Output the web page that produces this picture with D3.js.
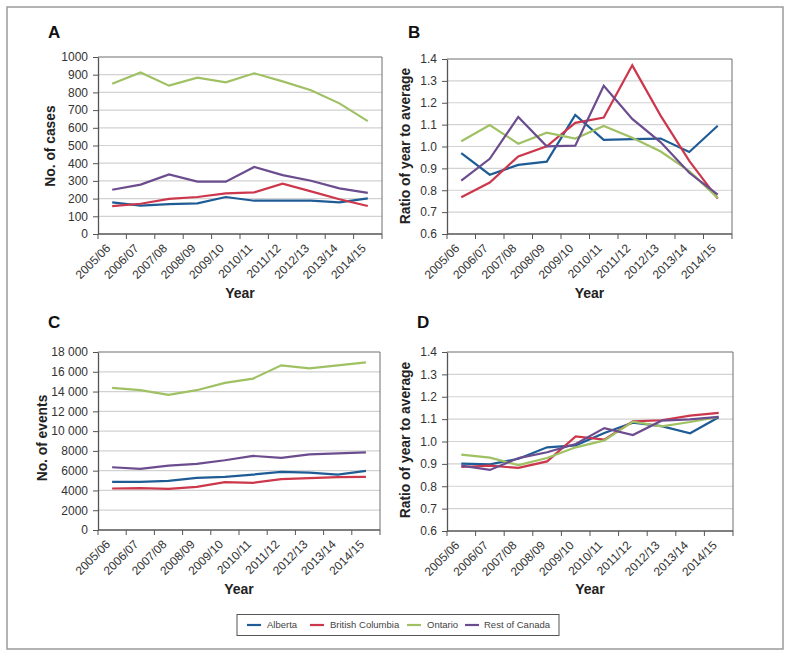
<!DOCTYPE html>
<html><head><meta charset="utf-8">
<script src="https://cdn.jsdelivr.net/npm/d3@7"></script>
<style>
body{margin:0;background:#fff;}
svg{display:block;font-family:"Liberation Sans",Arial,sans-serif;}
</style></head><body>
<svg id="c" width="791" height="657"></svg>
<script>
const years = ["2005/06","2006/07","2007/08","2008/09","2009/10","2010/11","2011/12","2012/13","2013/14","2014/15"];
const seriesNames = ["Alberta","British Columbia","Ontario","Rest of Canada"];
const seriesColors = ["#1f5c96","#cc374c","#9fc163","#6b4c8e"];

// Panel A: number of cases
const casesAlberta = [179,160,169,173,209,188,188,188,179,201];
const casesBC      = [158,171,198,209,230,235,284,241,196,158];
const casesOntario = [849,913,838,883,857,908,862,812,738,638];
const casesRest    = [250,279,337,296,296,379,333,301,258,232];

// Panel B: ratio of year to average (cases)
const ratioCasesAlberta = [0.970,0.871,0.916,0.931,1.144,1.030,1.034,1.036,0.975,1.095];
const ratioCasesBC      = [0.768,0.835,0.955,1.001,1.108,1.132,1.371,1.140,0.934,0.762];
const ratioCasesOntario = [1.024,1.098,1.013,1.063,1.036,1.094,1.040,0.977,0.887,0.765];
const ratioCasesRest    = [0.844,0.944,1.135,1.001,1.004,1.278,1.126,1.019,0.880,0.780];

// Panel C: number of events
const eventsAlberta = [4869,4869,4970,5272,5373,5608,5876,5809,5608,5977];
const eventsBC      = [4197,4231,4164,4365,4835,4768,5138,5238,5339,5373];
const eventsOntario = [14372,14137,13667,14137,14876,15312,16655,16353,16655,16958];
const eventsRest    = [6347,6179,6514,6682,7052,7488,7287,7656,7757,7858];

// Panel D: ratio of year to average (events)
const ratioEventsAlberta = [0.901,0.898,0.923,0.974,0.983,1.038,1.084,1.069,1.037,1.108];
const ratioEventsBC      = [0.886,0.892,0.882,0.911,1.023,1.008,1.090,1.095,1.116,1.128];
const ratioEventsOntario = [0.941,0.928,0.895,0.926,0.974,1.005,1.089,1.068,1.087,1.110];
const ratioEventsRest    = [0.892,0.873,0.926,0.952,0.989,1.060,1.029,1.093,1.099,1.110];

const ticksCases  = [0,100,200,300,400,500,600,700,800,900,1000];
const ticksRatio  = [0.6,0.7,0.8,0.9,1.0,1.1,1.2,1.3,1.4];
const ticksEvents = [0,2000,4000,6000,8000,10000,12000,14000,16000,18000];
const labelsEvents = ["0","2000","4000","6000","8000","10 000","12 000","14 000","16 000","18 000"];

const svg = d3.select("#c");

// outer frame
svg.append("rect").attr("x",7).attr("y",7).attr("width",776).attr("height",642)
  .attr("fill","none").attr("stroke","#9a9a9a").attr("stroke-width",1.5);

function panel(opt){
  const {l,r,t,b,domain,ticks,fmt,series,letter,letterX,letterY,ytitle,ytitleX,ytitleY,yearY} = opt;
  const g = svg.append("g");
  const x = d3.scaleBand().domain(years).range([l,r]);
  const y = d3.scaleLinear().domain(domain).range([b,t]);
  // gridlines
  g.append("g").selectAll("line").data(ticks.slice(1,-1)).join("line")
    .attr("x1",l).attr("x2",r).attr("y1",d=>y(d)).attr("y2",d=>y(d))
    .attr("stroke","#d2d2d2").attr("stroke-width",1.2);
  // top & right border
  g.append("path").attr("d",`M${l},${y(domain[1])}H${r}V${b}`)
    .attr("fill","none").attr("stroke","#6e6e6e").attr("stroke-width",1);
  // y axis
  const ya = g.append("g").attr("transform",`translate(${l},0)`)
    .call(d3.axisLeft(y).tickValues(ticks).tickFormat(fmt).tickSize(5).tickSizeOuter(0).tickPadding(5));
  ya.select(".domain").attr("stroke","#555").attr("stroke-width",1.3);
  ya.selectAll(".tick line").attr("stroke","#555");
  ya.selectAll("text").attr("font-size",12).attr("fill","#333").attr("font-family","Liberation Sans, Arial, sans-serif");
  // x axis
  const xa = g.append("g").attr("transform",`translate(0,${b})`);
  xa.append("line").attr("x1",l).attr("x2",r).attr("stroke","#555").attr("stroke-width",1.3);
  const bounds = years.map(d=>x(d)).concat([r]);
  xa.selectAll(".tk").data(bounds).join("line").attr("class","tk")
    .attr("x1",d=>d).attr("x2",d=>d).attr("y1",0).attr("y2",5).attr("stroke","#555");
  xa.selectAll(".lb").data(years).join("text").attr("class","lb")
    .attr("transform",d=>`translate(${x(d)+x.bandwidth()/2-1},${15}) rotate(-45)`)
    .attr("text-anchor","end").attr("font-size",12).attr("fill","#333")
    .text(d=>d);
  // lines
  const line = d3.line().x((d,i)=>x(years[i])+x.bandwidth()/2).y(d=>y(d));
  series.forEach((s,i)=>{
    g.append("path").datum(s).attr("d",line).attr("fill","none")
      .attr("stroke",seriesColors[i]).attr("stroke-width",2.2).attr("stroke-linejoin","miter");
  });
  // letter
  g.append("text").attr("x",letterX).attr("y",letterY).attr("font-size",17).attr("font-weight","bold")
    .attr("fill","#111").text(letter);
  // y title
  g.append("text").attr("transform",`translate(${ytitleX},${ytitleY}) rotate(-90)`)
    .attr("text-anchor","middle").attr("dy","0.35em").attr("font-size",13.8).attr("font-weight","bold")
    .attr("fill","#222").text(ytitle);
  // x title
  g.append("text").attr("x",(l+r)/2).attr("y",yearY).attr("text-anchor","middle")
    .attr("font-size",14).attr("font-weight","bold").attr("fill","#222").text("Year");
}

panel({l:98,r:382,t:57,b:234,domain:[0,1000],ticks:ticksCases,fmt:d=>String(d),
  series:[casesAlberta,casesBC,casesOntario,casesRest],
  letter:"A",letterX:48,letterY:38,ytitle:"No. of cases",ytitleX:50,ytitleY:146,yearY:298});
panel({l:447,r:732,t:59,b:234,domain:[0.6,1.4],ticks:ticksRatio,fmt:d3.format(".1f"),
  series:[ratioCasesAlberta,ratioCasesBC,ratioCasesOntario,ratioCasesRest],
  letter:"B",letterX:408,letterY:38,ytitle:"Ratio of year to average",ytitleX:405,ytitleY:146,yearY:298});
panel({l:98,r:380,t:352,b:530,domain:[0,18000],ticks:ticksEvents,fmt:(d,i)=>labelsEvents[i],
  series:[eventsAlberta,eventsBC,eventsOntario,eventsRest],
  letter:"C",letterX:48,letterY:328,ytitle:"No. of events",ytitleX:42,ytitleY:438,yearY:594});
panel({l:447,r:733,t:352,b:531,domain:[0.6,1.4],ticks:ticksRatio,fmt:d3.format(".1f"),
  series:[ratioEventsAlberta,ratioEventsBC,ratioEventsOntario,ratioEventsRest],
  letter:"D",letterX:417,letterY:328,ytitle:"Ratio of year to average",ytitleX:405,ytitleY:440,yearY:594});

// legend
const lg = svg.append("g");
lg.append("rect").attr("x",237).attr("y",614.5).attr("width",322).attr("height",21)
  .attr("fill","#fff").attr("stroke","#555").attr("stroke-width",1);
const legLineX = [247,310,407,465];
const legTextX = [267,330,427,484];
seriesNames.forEach((n,i)=>{
  lg.append("line").attr("x1",legLineX[i]).attr("x2",legLineX[i]+14).attr("y1",625).attr("y2",625)
    .attr("stroke",seriesColors[i]).attr("stroke-width",2.2);
  lg.append("text").attr("x",legTextX[i]).attr("y",625).attr("dy","0.35em")
    .attr("font-size",9.5).attr("fill","#444").text(n);
});
</script>
</body></html>
